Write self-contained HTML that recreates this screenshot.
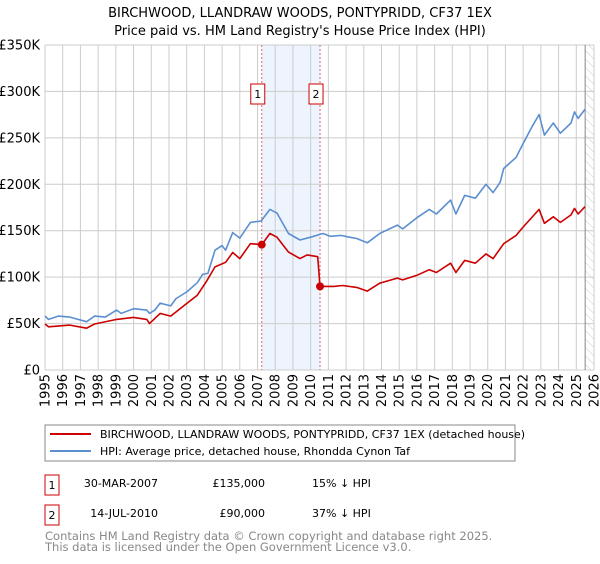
<!DOCTYPE html>
<html><head><meta charset="utf-8"><style>
body{margin:0;background:#fff;font-family:"DejaVu Sans","Liberation Sans",sans-serif;}
svg text{font-family:"DejaVu Sans","Liberation Sans",sans-serif;}
</style></head><body>
<svg id="c" width="600" height="560" viewBox="0 0 600 560" xmlns="http://www.w3.org/2000/svg">
<defs><pattern id="hatch" patternUnits="userSpaceOnUse" width="6" height="6" patternTransform="rotate(-45)"><line x1="0" y1="0" x2="0" y2="6" stroke="#ccc" stroke-width="1"/></pattern></defs>
<text x="300" y="17" text-anchor="middle" font-size="13" fill="#000">BIRCHWOOD, LLANDRAW WOODS, PONTYPRIDD, CF37 1EX</text>
<text x="300" y="35" text-anchor="middle" font-size="13" fill="#000">Price paid vs. HM Land Registry's House Price Index (HPI)</text>
<g id="plot"></g>
<rect x="45" y="425" width="470" height="36" fill="#fff" stroke="#888" stroke-width="1"/>
<line x1="50" y1="434" x2="91" y2="434" stroke="#cc0000" stroke-width="2"/>
<text x="100" y="438" font-size="11">BIRCHWOOD, LLANDRAW WOODS, PONTYPRIDD, CF37 1EX (detached house)</text>
<line x1="50" y1="451" x2="91" y2="451" stroke="#5b8fd0" stroke-width="2"/>
<text x="100" y="455" font-size="11">HPI: Average price, detached house, Rhondda Cynon Taf</text>
<g>
<rect x="45" y="475" width="14" height="20" fill="#fff" stroke="#cc0000"/>
<text x="52" y="489" font-size="11" text-anchor="middle">1</text>
<text x="158" y="487" font-size="11" text-anchor="end">30-MAR-2007</text>
<text x="265" y="487" font-size="11" text-anchor="end">£135,000</text>
<text x="312" y="487" font-size="11">15% ↓ HPI</text>
</g>
<g>
<rect x="45" y="505" width="14" height="20" fill="#fff" stroke="#cc0000"/>
<text x="52" y="519" font-size="11" text-anchor="middle">2</text>
<text x="158" y="517" font-size="11" text-anchor="end">14-JUL-2010</text>
<text x="265" y="517" font-size="11" text-anchor="end">£90,000</text>
<text x="312" y="517" font-size="11">37% ↓ HPI</text>
</g>
<text x="45" y="540" font-size="11.5" fill="#888">Contains HM Land Registry data © Crown copyright and database right 2025.</text>
<text x="45" y="551" font-size="11.5" fill="#888">This data is licensed under the Open Government Licence v3.0.</text>
</svg>
<script>
const yTicks=[0,50,100,150,200,250,300,350];
const yTickLabels=["£0","£50K","£100K","£150K","£200K","£250K","£300K","£350K"];
const xYears=[1995,1996,1997,1998,1999,2000,2001,2002,2003,2004,2005,2006,2007,2008,2009,2010,2011,2012,2013,2014,2015,2016,2017,2018,2019,2020,2021,2022,2023,2024,2025,2026];
const hpiYears=[1995,1995.2,1995.75,1996.4,1997.35,1997.8,1998.4,1999.05,1999.3,2000,2000.75,2000.9,2001.2,2001.5,2002.1,2002.4,2003,2003.6,2003.9,2004.2,2004.6,2005,2005.2,2005.6,2006,2006.6,2007.2,2007.7,2008.1,2008.75,2009.4,2010,2010.7,2011.1,2011.7,2012.2,2012.6,2013.2,2013.9,2014.9,2015.2,2016,2016.7,2017.1,2017.9,2018.2,2018.7,2019.3,2019.9,2020.3,2020.7,2020.9,2021.6,2022,2022.5,2022.9,2023.2,2023.7,2024.1,2024.7,2024.9,2025.1,2025.5];
const hpiValues=[58,54.5,58,57,52,58,57,64.5,61,66,64.5,61,64.5,72,69,77,84,94,103,104,129,134,129,148,142,159,160.5,173,169,147,140,143,147,144,145,143,141.6,137,147,156,152,164,173,168,183,168,188,185,200,191,202,217,229,244,262,275,253,266,255,266,278,271,281];
const propYears=[1995,1995.2,1996.4,1997.35,1997.8,1999.05,2000,2000.75,2000.9,2001.5,2002.1,2003,2003.6,2004.1,2004.6,2005.2,2005.6,2006,2006.6,2007.24,2007.7,2008.1,2008.75,2009.4,2009.8,2010.4,2010.53,2011.3,2011.8,2012.6,2013.2,2013.9,2014.9,2015.2,2016,2016.7,2017.1,2017.9,2018.2,2018.7,2019.3,2019.9,2020.3,2020.9,2021.6,2022,2022.9,2023.2,2023.7,2024.1,2024.7,2024.9,2025.1,2025.5];
const propValues=[49.5,46.5,48.4,45,49.5,54.5,56.7,54.5,50,61,58,71.6,80.6,95,111,116,126.5,120,136,135,147,143,127,120,124,122,90,90,91,89,85,93.5,99,97,102,108,105,115,105,118,115,125,120,136,145,154,173,158,165,159,167,174,168,176];
const saleYears=[2007.24,2010.53];
const saleValues=[135,90];
const saleLabels=["1","2"];
const X0=45,X1=594,Y0=370,Y1=45,YR0=1995,YR1=2026,VMAX=350;
const xs=y=>X0+(y-YR0)/(YR1-YR0)*(X1-X0);
const ys=v=>Y0-v/VMAX*(Y0-Y1);
const NS="http://www.w3.org/2000/svg";
const g=document.getElementById('plot');
function mk(t,a){const e=document.createElementNS(NS,t);for(const k in a)e.setAttribute(k,a[k]);g.appendChild(e);return e;}
// shaded sale period
let sh=mk('rect',{x:xs(saleYears[0]),y:Y1,width:xs(saleYears[1])-xs(saleYears[0]),height:Y0-Y1,fill:'#eef4fd'});


// hatch future
let ht=mk('rect',{x:xs(2025.5),y:Y1,width:X1-xs(2025.5),height:Y0-Y1,fill:'url(#hatch)'});


xYears.forEach(yr=>{
 const l=mk('line',{x1:xs(yr),x2:xs(yr),y1:Y1,y2:Y0,stroke:'#ccc','stroke-width':1});
 
 
 const t=mk('text',{x:0,y:0,'font-size':13,'text-anchor':'end',transform:`translate(${xs(yr)+4.5},374) rotate(-90)`});
 t.textContent=yr;
 
 
});
yTicks.forEach((v,i)=>{
 const l=mk('line',{x1:X0,x2:X1,y1:ys(v),y2:ys(v),stroke:'#ccc','stroke-width':1});
 
 
 const t=mk('text',{x:40,y:ys(v)+4.5,'font-size':13,'text-anchor':'end'});
 t.textContent=yTickLabels[i];
 
 
});
let nl=mk('line',{x1:xs(2025.5),x2:xs(2025.5),y1:Y1,y2:Y0,stroke:'#888','stroke-width':1});


saleYears.forEach((yr,i)=>{
 const l=mk('line',{x1:xs(yr),x2:xs(yr),y1:Y1,y2:Y0,stroke:'#e06666','stroke-width':1,'stroke-dasharray':'2,2'});
 
 
 const b=mk('rect',{x:xs(yr)-11,y:84,width:14,height:20,fill:'#fff',stroke:'#cc0000'});
 
 
 const t=mk('text',{x:xs(yr)-4,y:98,'font-size':11,'text-anchor':'middle'});
 t.textContent=saleLabels[i];
 
 
});
const pts=(xa,va)=>xa.map((x,i)=>xs(x).toFixed(1)+','+ys(va[i]).toFixed(1)).join(' ');
let hp=mk('polyline',{points:pts(hpiYears,hpiValues),fill:'none',stroke:'#5b8fd0','stroke-width':1.6,'stroke-linejoin':'round'});


let pp=mk('polyline',{points:pts(propYears,propValues),fill:'none',stroke:'#cc0000','stroke-width':1.6,'stroke-linejoin':'round'});


saleYears.forEach((yr,i)=>{
 const c=mk('circle',{cx:xs(yr),cy:ys(saleValues[i]),r:4,fill:'#cc0000'});
 
 
});
</script>
</body></html>
